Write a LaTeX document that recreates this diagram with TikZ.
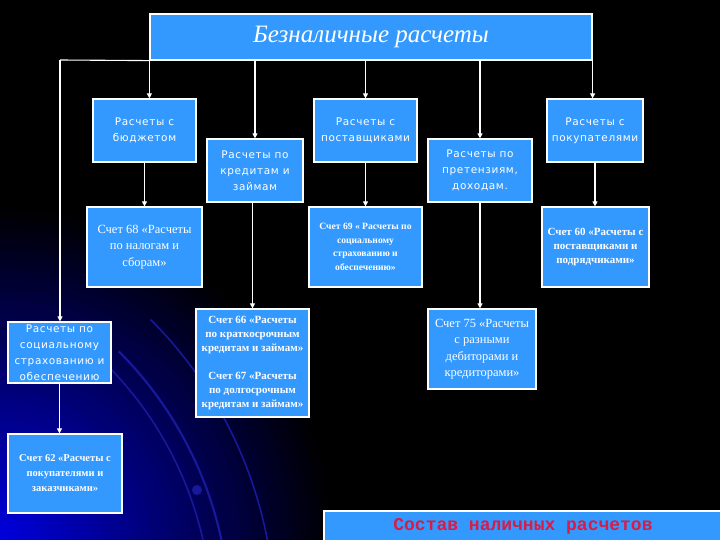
\documentclass[tikz,border=0pt]{standalone}
\usepackage{fontspec}
\setmainfont{Liberation Serif}
\newfontfamily\boxfont[LetterSpace=6]{DejaVu Sans}
\newfontfamily\monofont{Liberation Mono}
\usetikzlibrary{arrows.meta,positioning,calc}
\definecolor{clrBox}{HTML}{3399FF}
\definecolor{clrHead}{HTML}{D81C46}
\definecolor{clrArc}{HTML}{18189A}
\tikzset{
  card/.style={rectangle, draw=white, line width=1.2pt, fill=clrBox,
    text=white, align=center, inner sep=1pt},
  sbox/.style={card, font=\boxfont\fontsize{10.5}{16}\selectfont},
  acc/.style={card, font=\fontsize{12.5}{16.5}\selectfont},
  accb/.style={card, font=\fontsize{11}{14}\selectfont\bfseries},
  edge/.style={-{Triangle[length=5pt,width=5pt]}, line width=1.1pt, white},
  bus/.style={line width=1.1pt, white},
  deco/.style={clrArc, line width=2pt},
}
\begin{document}
\begin{tikzpicture}[x=1pt, y=-1pt]

\useasboundingbox (0,0) rectangle (720,540);
\fill[black] (0,0) rectangle (720,540);
% Hintergrund: blauer Schein unten links, Boegen
\begin{scope}
  \clip (0,0) rectangle (720,540);
  \foreach \i [evaluate=\i as \r using 340-10*\i,
               evaluate=\i as \c using int(2.6*\i)] in {0,...,33}{
    \fill[blue!\c!black] (0,540) circle (\r pt);
  }
  \foreach \r/\w in {362/1.6, 380/2.2, 425/1.6}{
    \draw[deco, line width=\w pt] (-150,620) ++(45:\r pt) arc (45:-14:\r pt);
  }
  \fill[clrArc] (197,490) circle (5pt);
\end{scope}

% obere Ebene
\node[card, minimum width=442, minimum height=46,
      font=\fontsize{25}{28}\selectfont\itshape] (top) at (371,37)
  {Безналичные расчеты};

\node[sbox, minimum width=103, minimum height=63] (budget) at (144.5,130.5)
  {Расчеты с\\бюджетом};
\node[sbox, minimum width=96,  minimum height=63] (credit) at (255,170.5)
  {Расчеты по\\кредитам и\\займам};
\node[sbox, minimum width=103, minimum height=63] (suppl)  at (365.5,130.5)
  {Расчеты с\\поставщиками};
\node[sbox, minimum width=104, minimum height=63] (claims) at (480,170.5)
  {Расчеты по\\претензиям,\\доходам.};
\node[sbox, minimum width=96,  minimum height=63] (buyers) at (595,130.5)
  {Расчеты с\\покупателями};
\node[sbox, minimum width=103, minimum height=61] (soc)    at (59.5,352.5)
  {Расчеты по\\социальному\\страхованию и\\обеспечению};

% Konten
\node[acc,  minimum width=115, minimum height=80] (acc68) at (144.5,247)
  {Счет 68 «Расчеты\\по налогам и\\сборам»};
\node[accb, minimum width=113, minimum height=80,
      font=\fontsize{9.6}{13.5}\selectfont\bfseries] (acc69) at (365.5,247)
  {Счет 69 « Расчеты по\\социальному\\страхованию и\\обеспечению»};
\node[accb, minimum width=107, minimum height=80] (acc60) at (595.5,247)
  {Счет 60 «Расчеты с\\поставщиками и\\подрядчиками»};
\node[accb, minimum width=113, minimum height=108] (acc66) at (252.5,363)
  {Счет 66 «Расчеты\\по краткосрочным\\кредитам и займам»\\[14pt]
   Счет 67 «Расчеты\\по долгосрочным\\кредитам и займам»};
\node[acc,  minimum width=108, minimum height=80] (acc75) at (482,349)
  {Счет 75 «Расчеты\\с разными\\дебиторами и\\кредиторами»};
\node[accb, minimum width=114, minimum height=79,
      font=\fontsize{10.5}{15}\selectfont\bfseries] (acc62) at (65,473.5)
  {Счет 62 «Расчеты с\\покупателями и\\заказчиками»};

\node[card, minimum width=398, minimum height=31, text=clrHead,
      font=\monofont\fontsize{18}{20}\selectfont\bfseries] (comp) at (523,526.5)
  {Состав наличных расчетов};

% Verbindungen von oben
\coordinate (kL) at (60,60);
\draw[bus]  (top.south west) -- (kL);
\draw[edge] (kL) -- (kL |- soc.north);
\draw[edge] (top.south west) -- (top.south west |- budget.north);
\foreach \b in {credit, suppl, claims}{
  \draw[edge] (top.south -| \b.north) -- (\b.north);
}
\draw[edge] (top.south east) -- (top.south east |- buyers.north);

% zweite Ebene
\foreach \a/\b in {budget/acc68, suppl/acc69, buyers/acc60,
                   claims/acc75, soc/acc62}{
  \draw[edge] (\a.south) -- (\a.south |- \b.north);
}
\draw[edge] (credit.south -| acc66.north) -- (acc66.north);

\end{tikzpicture}
\end{document}
